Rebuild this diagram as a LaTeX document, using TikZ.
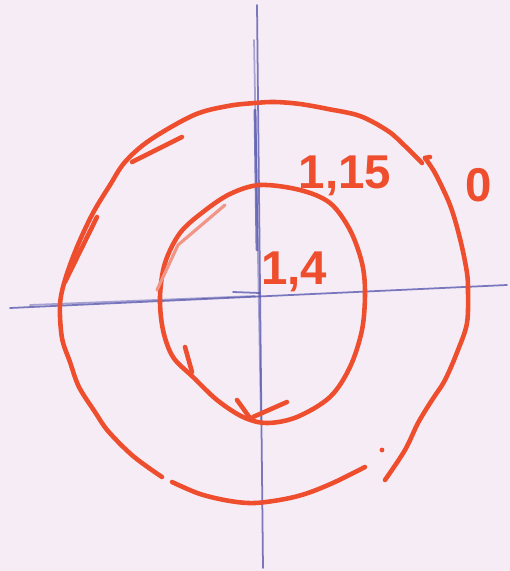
\documentclass[tikz,border=0pt]{standalone}
\usepackage{fontspec}
\setmainfont{Liberation Sans}
\usetikzlibrary{positioning}
\definecolor{paper}{RGB}{245,236,245}
\definecolor{marker}{RGB}{238,78,45}
\definecolor{biro}{RGB}{90,90,175}
\begin{document}
\begin{tikzpicture}[x=0.02cm, y=-0.02cm,
		pen/.style={marker, line width=2.6pt, line cap=round, line join=round},
		penlight/.style={marker!55!paper, line width=1.8pt, line cap=round},
		axisline/.style={biro, line width=1pt, line cap=round, opacity=0.8},
		val/.style={text=marker, font=\fontsize{27}{30}\selectfont\bfseries, inner sep=0pt}]
		\fill[paper] (0,0) rectangle (510,571);
		\useasboundingbox (0,0) rectangle (510,571);
		
		% axes
		\draw[axisline] (10,308) -- (507,285);
		\draw[axisline, opacity=0.5] (30,305) -- (255,296);
		\draw[axisline] (233,292) -- (260,293);
		\draw[axisline] (257,5) -- (263,568);
		\draw[axisline, opacity=0.5] (254,40) -- (261,420);
		\draw[axisline, line width=1.6pt] (255,110) -- (257,250);
		
		% outer circle
		\draw[pen] plot[smooth, tension=0.55] coordinates {(422,163) (405,146) (388,131) (360,116) (328,109) (300,104) (275,102) (255,103) (228,106) (194,115) (150,140) (125,162) (110,185) (93,213) (77,247) (65,280) (60,305) (62,338) (70,362) (79,387) (95,412) (108,431) (133,456) (162,477)};
		\draw[pen] plot[smooth, tension=0.55] coordinates {(172,482) (200,494) (230,501) (255,503) (285,499) (308,493) (335,482) (365,467)};
		\draw[pen] plot[smooth, tension=0.55] coordinates {(385,480) (405,450) (418,423) (432,400) (445,380) (458,350) (467,323) (468,290) (467,273) (462,247) (455,220) (448,200) (435,173) (425,158)};
		\draw[pen] (425,158) -- (430,157);
		\draw[pen] (132,162) -- (182,137);
		\draw[pen] (65,282) -- (97,217);
		\fill[marker] (382,450) circle (2.4);
		
		% inner circle
		\draw[pen] plot[smooth cycle, tension=0.55] coordinates {(260,185) (300,190) (330,203) (350,230) (362,263) (365,293) (362,330) (350,367) (330,397) (297,417) (267,423) (243,417) (217,400) (193,377) (173,357) (163,330) (160,297) (165,263) (180,233) (203,212) (230,194)};
		\draw[penlight] (157,290) -- (178,245) -- (225,205);
		\draw[pen] (185,347) -- (192,372);
		\draw[pen] (237,400) -- (250,418);
		\draw[pen] (287,402) -- (253,417);
		
		% labels
		\node[val] (lblOuter) at (345,176) {1,15};
		\node[val] (lblInner) at (294,272) {1,4};
		\node[val] (lblZero) at (479,185) {0};
	\end{tikzpicture}
\end{document}
